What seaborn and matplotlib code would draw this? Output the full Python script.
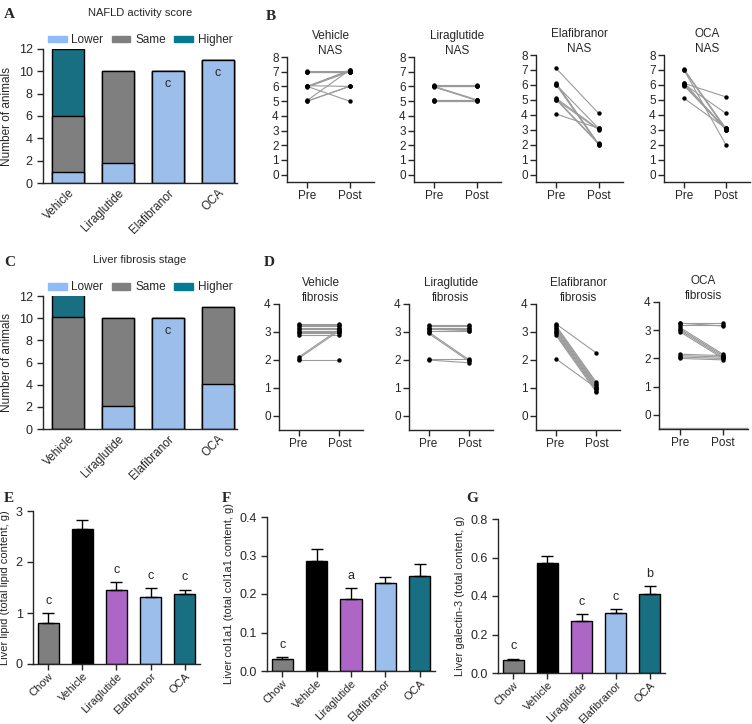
import numpy as np
import pandas as pd
import matplotlib
matplotlib.use("Agg")
import matplotlib.pyplot as plt
import seaborn as sns

sns.set_style("ticks")
plt.rcParams['font.family'] = ['Liberation Sans', 'DejaVu Sans']
plt.rcParams['axes.linewidth'] = 1.0
plt.rcParams['xtick.major.width'] = 1.0
plt.rcParams['ytick.major.width'] = 1.0
plt.rcParams['xtick.major.size'] = 4
plt.rcParams['ytick.major.size'] = 4

W, H = 752, 724

# ---- data ----
groups = ["Vehicle", "Liraglutide", "Elafibranor", "OCA"]
groups5 = ["Chow", "Vehicle", "Liraglutide", "Elafibranor", "OCA"]

# A: NAFLD activity score, number of animals
nas_lower = [1, 1.8, 10, 11]
nas_same = [5, 8.2, 0, 0]
nas_higher = [6, 0, 0, 0]
nas_sig = ["", "", "c", "c"]

# C: liver fibrosis stage, number of animals
fib_lower = [0, 2.1, 10, 4.1]
fib_same = [10.1, 7.9, 0, 6.9]
fib_higher = [2.1, 0, 0, 0]
fib_sig = ["", "", "c", ""]

# B: individual NAS, pre vs post
nas_pre = {
    "Vehicle": [7.05, 7.0, 7.0, 6.95, 6.05, 6.0, 6.0, 5.95, 5.05, 5.0, 5.0, 6.0],
    "Liraglutide": [6.1, 6.05, 6.0, 6.0, 5.1, 5.05, 5.0, 5.0, 6.0, 5.95],
    "Elafibranor": [7.1, 6.1, 6.05, 6.0, 5.1, 5.05, 5.0, 4.05, 6.0, 5.0],
    "OCA": [6.1, 7.05, 7.0, 6.05, 6.0, 6.0, 5.1, 6.15, 6.0, 7.0, 5.95],
}
nas_post = {
    "Vehicle": [7.05, 7.0, 7.0, 6.95, 6.0, 7.1, 7.05, 7.0, 7.1, 6.0, 6.0, 5.0],
    "Liraglutide": [6.1, 6.05, 6.0, 6.0, 5.1, 5.05, 5.0, 5.0, 5.1, 5.05],
    "Elafibranor": [4.1, 2.05, 2.0, 3.1, 3.05, 2.1, 3.0, 3.1, 2.0, 2.05],
    "OCA": [5.2, 3.1, 2.0, 4.1, 3.05, 3.0, 3.1, 3.0, 3.05, 3.0, 3.1],
}

# D: individual fibrosis stage, pre vs post
fib_pre = {
    "Vehicle": [3.3, 3.25, 3.2, 3.15, 3.1, 3.05, 3.0, 2.95, 2.9, 2.1, 2.05, 2.0],
    "Liraglutide": [3.25, 3.2, 3.15, 3.1, 3.05, 3.1, 3.0, 2.95, 2.05, 2.0],
    "Elafibranor": [3.3, 3.25, 3.2, 3.15, 3.1, 3.05, 3.0, 2.95, 2.9, 2.05],
    "OCA": [3.25, 3.2, 3.25, 3.1, 3.05, 3.0, 2.95, 2.15, 2.1, 2.05, 2.0],
}
fib_post = {
    "Vehicle": [3.3, 3.25, 3.2, 3.15, 3.1, 3.05, 3.0, 2.95, 2.9, 3.1, 3.05, 2.0],
    "Liraglutide": [3.25, 3.2, 3.15, 3.1, 3.05, 3.05, 2.0, 1.95, 2.05, 1.9],
    "Elafibranor": [2.25, 1.2, 1.15, 1.1, 1.05, 1.0, 0.95, 0.9, 0.85, 1.0],
    "OCA": [3.25, 3.2, 3.15, 2.15, 2.1, 2.05, 2.0, 2.1, 2.05, 2.0, 1.95],
}

# E, F, G: liver content, mean and SEM
lipid_mean = [0.8, 2.65, 1.45, 1.32, 1.37]
lipid_sem = [0.2, 0.17, 0.15, 0.17, 0.09]
lipid_sig = ["c", "", "c", "c", "c"]
col_mean = [0.032, 0.285, 0.186, 0.228, 0.248]
col_sem = [0.004, 0.033, 0.029, 0.017, 0.029]
col_sig = ["c", "", "a", "", ""]
gal_mean = [0.065, 0.57, 0.27, 0.31, 0.41]
gal_sem = [0.01, 0.04, 0.035, 0.02, 0.04]
gal_sig = ["c", "", "c", "c", "b"]

c_lower = "#8fbcf8"
c_same = "#7f7f7f"
c_higher = "#057b93"
bar_colors = ["#7f7f7f", "#000000", "#b556d6", "#8fbcf8", "#057b93"]


def rect(x0, y0, x1, y1):
    return [x0 / W, 1 - y1 / H, (x1 - x0) / W, (y1 - y0) / H]


fig = plt.figure(figsize=(W / 100, H / 100), dpi=100)


def stacked(box, lower, same, higher, sig, title):
    ax = fig.add_axes(rect(*box))
    df = pd.DataFrame({"group": groups,
                       "total": np.add(np.add(lower, same), higher),
                       "ls": np.add(lower, same),
                       "lower": lower})
    kw = dict(edgecolor="black", linewidth=1, width=0.64, ax=ax)
    sns.barplot(data=df, x="group", y="total", color=c_higher, **kw)
    sns.barplot(data=df, x="group", y="ls", color=c_same, **kw)
    sns.barplot(data=df, x="group", y="lower", color=c_lower, **kw)
    for i, s in enumerate(sig):
        if s:
            ax.text(i, df["total"][i] - 0.6, s, ha="center", va="top", fontsize=9)
    ax.set_ylim(0, 12)
    ax.set_xlim(-0.5, 3.38)
    ax.set_yticks(range(0, 13, 2))
    ax.set_xlabel("")
    ax.set_ylabel("Number of animals", fontsize=8.5)
    ax.tick_params(axis="y", labelsize=9)
    ax.tick_params(axis="x", length=0, labelsize=8.5, pad=3)
    plt.setp(ax.get_xticklabels(), rotation=45, ha="right", rotation_mode="anchor")
    sns.despine(ax=ax)
    ax.set_title(title, fontsize=8, pad=24)
    handles = [plt.Rectangle((0, 0), 1, 1, color=c) for c in (c_lower, c_same, c_higher)]
    ax.legend(handles, ["Lower", "Same", "Higher"], ncol=3, frameon=False,
              loc="lower center", bbox_to_anchor=(0.5, 1.02), fontsize=8.5,
              handlelength=1.6, handleheight=0.5, columnspacing=0.7, handletextpad=0.4,
              borderaxespad=0, borderpad=0)
    return ax


stacked((43, 49, 237, 183), nas_lower, nas_same, nas_higher, nas_sig, "NAFLD activity score")
stacked((43, 296, 237, 429), fib_lower, fib_same, fib_higher, fib_sig, "Liver fibrosis stage")


def paired(box, pre, post, title, ymax):
    ax = fig.add_axes(rect(*box))
    n = len(pre)
    df = pd.DataFrame({"animal": list(range(n)) * 2,
                       "time": [0] * n + [1] * n,
                       "score": list(pre) + list(post)})
    sns.lineplot(data=df, x="time", y="score", units="animal", estimator=None,
                 color="#9a9a9a", linewidth=0.8, ax=ax)
    sns.scatterplot(data=df, x="time", y="score", color="black", s=10,
                    linewidth=0, ax=ax, zorder=3)
    ax.set_ylim(-0.5, ymax)
    ax.set_xlim(-0.48, 1.58)
    ax.set_yticks(range(0, int(ymax) + 1))
    ax.set_xticks([0, 1])
    ax.set_xticklabels(["Pre", "Post"])
    ax.set_xlabel("")
    ax.set_ylabel("")
    ax.tick_params(labelsize=8.5, pad=2)
    sns.despine(ax=ax)
    ax.set_title(title, fontsize=8.5, pad=2, linespacing=1.3)
    return ax


b_boxes = [(287, 57, 374, 182), (414, 57, 501, 182), (536, 55, 623, 182), (664, 55, 750, 182)]
d_boxes = [(279, 304, 363, 430), (409, 304, 493, 430), (536, 304, 620, 430), (659, 302, 748, 429)]
for g, bx in zip(groups, b_boxes):
    paired(bx, nas_pre[g], nas_post[g], g + "\nNAS", 8)
for g, bx in zip(groups, d_boxes):
    ax = paired(bx, fib_pre[g], fib_post[g], g + "\nfibrosis", 4)
ax.axhline(-0.45, color="#aaaaaa", linewidth=1)


def content(box, mean, sem, sig, ylim, yticks, ylabel, fmt):
    ax = fig.add_axes(rect(*box))
    df = pd.DataFrame({"group": groups5, "value": mean})
    sns.barplot(data=df, x="group", y="value", hue="group", palette=bar_colors,
                legend=False, edgecolor="black", linewidth=1, width=0.62, ax=ax)
    x = np.arange(len(mean))
    ax.errorbar(x, mean, yerr=[np.zeros(len(sem)), sem], fmt="none", ecolor="black",
                elinewidth=1, capsize=4, capthick=1)
    for i, s in enumerate(sig):
        if s:
            ax.text(i, mean[i] + sem[i] + ylim * 0.04, s, ha="center", va="bottom", fontsize=9)
    ax.set_ylim(0, ylim)
    ax.set_xlim(-0.45, 4.45)
    ax.set_yticks(yticks)
    ax.set_yticklabels([fmt.format(v) for v in yticks])
    ax.set_xlabel("")
    ax.set_ylabel(ylabel, fontsize=8)
    ax.tick_params(axis="y", labelsize=9)
    ax.tick_params(axis="x", labelsize=8, pad=1)
    plt.setp(ax.get_xticklabels(), rotation=45, ha="right", rotation_mode="anchor")
    sns.despine(ax=ax)
    return ax


content((33, 511, 200, 664), lipid_mean, lipid_sem, lipid_sig, 3, [0, 1, 2, 3],
        "Liver lipid (total lipid content, g)", "{:.0f}")
content((267, 517, 435, 671), col_mean, col_sem, col_sig, 0.4, [0, 0.1, 0.2, 0.3, 0.4],
        "Liver col1a1 (total col1a1 content, g)", "{:.1f}")
content((498, 519, 665, 673), gal_mean, gal_sem, gal_sig, 0.8, [0, 0.2, 0.4, 0.6, 0.8],
        "Liver galectin-3 (total content, g)", "{:.1f}")

letters = [("A", 4, 14), ("B", 266, 16), ("C", 4, 262), ("D", 264, 262),
           ("E", 4, 498), ("F", 222, 498), ("G", 466, 498)]
for lab, lx, ly in letters:
    fig.text(lx / W, 1 - ly / H, lab, fontsize=11, fontweight="bold",
             family=["Liberation Serif", "DejaVu Serif"], va="center", ha="left")

fig.savefig("out.png", dpi=100)
